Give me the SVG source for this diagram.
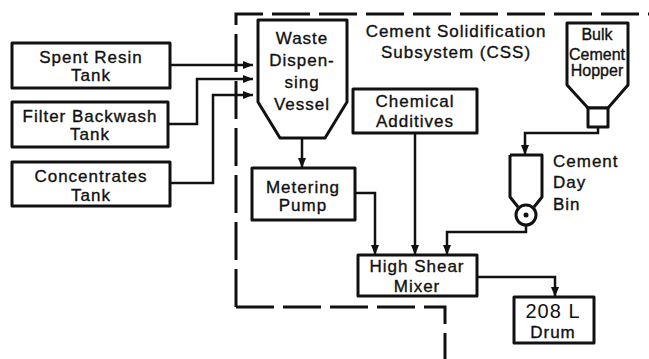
<svg xmlns="http://www.w3.org/2000/svg" width="649" height="359" viewBox="0 0 649 359">
<defs>
<marker id="ah" markerUnits="userSpaceOnUse" markerWidth="10" markerHeight="8" refX="10" refY="4" orient="auto">
<path d="M0,0 L10,4 L0,8 z" fill="#111"/>
</marker>
<style>
.box{fill:#fff;stroke:#111;stroke-width:3;stroke-linejoin:round}
.t{font-family:"Liberation Sans",Arial,sans-serif;font-size:17px;letter-spacing:1px;fill:#111;stroke:#111;stroke-width:0.35;text-anchor:middle}
.ts{font-size:16px;letter-spacing:0px}
.c{fill:none;stroke:#111;stroke-width:2.5;marker-end:url(#ah)}
.bd{fill:none;stroke:#111;stroke-width:3;stroke-dasharray:38 9}
</style>
</defs>
<rect width="649" height="359" fill="#fff"/>
<g id="boundary">
<path class="bd" d="M236,307 V14 H649"/>
<path class="bd" d="M236,307 H445 V359"/>
<text class="t" x="456" y="37">Cement Solidification</text>
<text class="t" x="456" y="58">Subsystem (CSS)</text>
</g>
<g id="connectors">
<path class="c" d="M170,65 H253"/>
<path class="c" d="M168,124 H197 V79 H253"/>
<path class="c" d="M170,183 H213 V95 H253"/>
<path class="c" d="M302,138 V168"/>
<path class="c" d="M355,193 H375 V255"/>
<path class="c" d="M415,133 V255"/>
<path class="c" d="M598,127 V133 H525 V155"/>
<path class="c" d="M526,225 V232 H447 V255"/>
<path class="c" d="M477,277 H555 V297"/>
</g>
<g id="spent-resin">
<rect class="box" x="12" y="43" width="158" height="45"/>
<text class="t" x="91" y="63">Spent Resin</text>
<text class="t" x="91" y="81">Tank</text>
</g>
<g id="filter-backwash">
<rect class="box" x="12" y="102" width="156" height="45"/>
<text class="t" x="90" y="122">Filter Backwash</text>
<text class="t" x="90" y="140">Tank</text>
</g>
<g id="concentrates">
<rect class="box" x="12" y="162" width="158" height="44"/>
<text class="t" x="91" y="182">Concentrates</text>
<text class="t" x="91" y="201">Tank</text>
</g>
<g id="waste-vessel">
<path class="box" d="M258,20 H347 V102 L325,138 H280 L258,102 Z"/>
<text class="t" x="302" y="44">Waste</text>
<text class="t" x="302" y="66">Dispen-</text>
<text class="t" x="302" y="88">sing</text>
<text class="t" x="302" y="110">Vessel</text>
</g>
<g id="chemical-additives">
<rect class="box" x="353" y="89" width="124" height="44"/>
<text class="t" x="415" y="107">Chemical</text>
<text class="t" x="415" y="127">Additives</text>
</g>
<g id="bulk-cement-hopper">
<path class="box" d="M567,23 H628 V85 L608,108 H588 L567,85 Z"/>
<rect class="box" x="588" y="108" width="20" height="19"/>
<text class="t ts" x="597" y="40">Bulk</text>
<text class="t ts" x="597" y="60">Cement</text>
<text class="t ts" x="597" y="76">Hopper</text>
</g>
<g id="cement-day-bin">
<path class="box" d="M510,155 H542 V197 L534,207 M518,207 L510,197 V155"/>
<circle class="box" cx="526" cy="215" r="10"/>
<circle cx="526" cy="215" r="2.5" fill="#111"/>
<text class="t" x="553" y="167" style="text-anchor:start">Cement</text>
<text class="t" x="553" y="188" style="text-anchor:start">Day</text>
<text class="t" x="553" y="210" style="text-anchor:start">Bin</text>
</g>
<g id="metering-pump">
<rect class="box" x="252" y="168" width="103" height="52"/>
<text class="t" x="303" y="193">Metering</text>
<text class="t" x="303" y="211">Pump</text>
</g>
<g id="high-shear-mixer">
<rect class="box" x="358" y="255" width="119" height="41"/>
<text class="t" x="417" y="272">High Shear</text>
<text class="t" x="417" y="292">Mixer</text>
</g>
<g id="drum">
<rect class="box" x="514" y="297" width="80" height="46"/>
<text class="t" x="553" y="318" style="font-size:20px;stroke-width:0">208 L</text>
<text class="t" x="553" y="338">Drum</text>
</g>
</svg>
